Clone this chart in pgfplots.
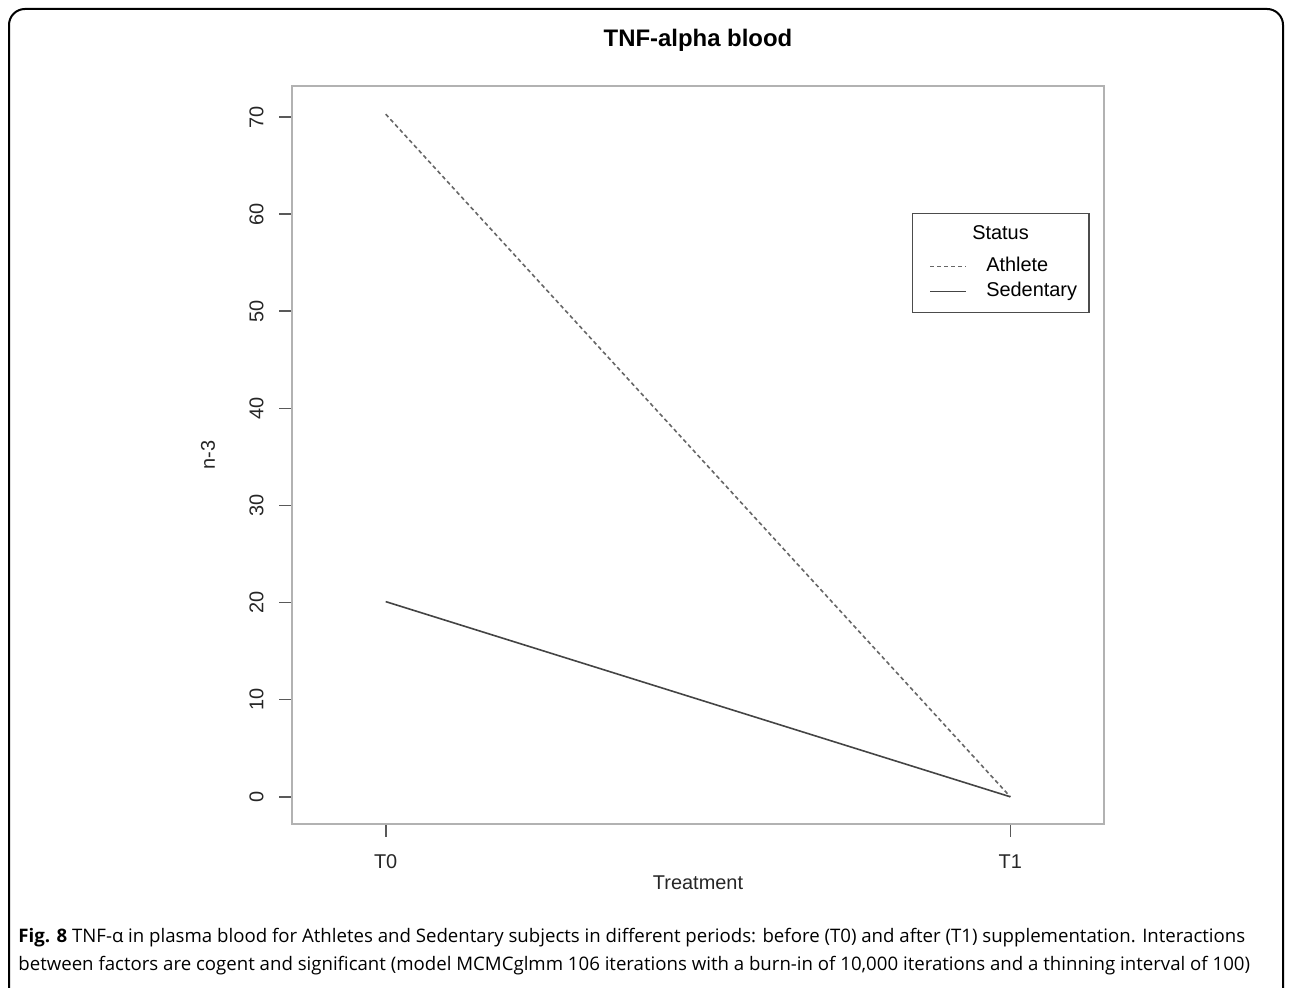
\documentclass[border=0pt]{standalone}
\usepackage{fontspec}
\setmainfont{Liberation Sans}
\newfontfamily\capfont{Open Sans}
\usepackage{pgfplots}
\pgfplotsset{compat=1.18}
\definecolor{athl}{HTML}{666666}
\definecolor{sed}{HTML}{444444}
\begin{document}
\begin{tikzpicture}[x=1bp,y=1bp]
\useasboundingbox (0,0) rectangle (646,494);
\begin{scope}
\clip (0,0) rectangle (646,494);
\draw[line width=1bp, rounded corners=8bp] (4.5,-12) rectangle (641.5,489.5);
\end{scope}
\begin{axis}[
  at={(146bp,82bp)}, anchor=south west,
  scale only axis, width=406bp, height=369bp,
  xmin=-0.15, xmax=1.15, ymin=-2.8, ymax=73.2,
  xtick={0,1}, xticklabels={T0,T1},
  ytick={0,10,20,30,40,50,60,70},
  xtick pos=lower, ytick pos=left,
  tick align=outside, major tick length=6.5bp,
  axis line style={draw=gray!60, line width=0.9bp},
  tick style={draw=black!65, line width=0.8bp},
  every tick label/.append style={font=\fontsize{10}{12}\selectfont, text=black!85},
  /pgf/number format/assume math mode=true,
  yticklabel style={rotate=90, anchor=south, inner sep=0pt, yshift=7.5bp},
  xticklabel style={anchor=north, inner sep=0pt, yshift=-8.5bp},
  title={TNF-alpha blood},
  title style={at={(axis description cs:0.5,1.0664)}, anchor=center, yshift=-7.5bp, font=\fontsize{12}{14}\selectfont\bfseries},
  xlabel={Treatment},
  xlabel style={at={(axis description cs:0.5,-0.0799)}, anchor=center, font=\fontsize{10}{12}\selectfont, text=black!85},
  ylabel={n-3},
  ylabel style={at={(axis description cs:-0.1034,0.5)}, anchor=center, font=\fontsize{10}{12}\selectfont, text=black!85},
  legend style={at={(rel axis cs:0.7635,0.828)}, anchor=north west,
    draw=black!70, line width=0.7bp, fill=white,
    font=\fontsize{10}{12}\selectfont,
    inner xsep=4bp, inner ysep=4.25bp, row sep=0bp,
    nodes={inner ysep=1.25bp, text height=7.5bp, text depth=2.5bp}},
  legend cell align=left,
  legend image code/.code={\path (0bp,0bp); \draw[#1] (4.5bp,0bp) -- (22.5bp,0bp);},
]
\addlegendimage{empty legend}
\addlegendentry[text depth=6bp]{\hspace{0.5bp}Status}
\addplot[color=athl, line width=0.8bp, dash pattern=on 2bp off 1.5bp] coordinates {(0,70.3) (1,0)};
\addlegendentry{\hspace{7.5bp}Athlete}
\addplot[color=sed, line width=0.8bp] coordinates {(0,20.1) (1,0)};
\addlegendentry{\hspace{7.5bp}Sedentary}
\end{axis}
\node[anchor=base west, inner sep=0pt, font=\capfont\fontsize{9.35}{11}\selectfont] at (9,22.5)
  {\textbf{Fig. 8} TNF-α in plasma blood for Athletes and Sedentary subjects in different periods: before (T0) and after (T1) supplementation. Interactions};
\node[anchor=base west, inner sep=0pt, font=\capfont\fontsize{9.35}{11}\selectfont] at (9,8.5)
  {between factors are cogent and significant (model MCMCglmm 106 iterations with a burn-in of 10,000 iterations and a thinning interval of 100)};
\end{tikzpicture}
\end{document}
